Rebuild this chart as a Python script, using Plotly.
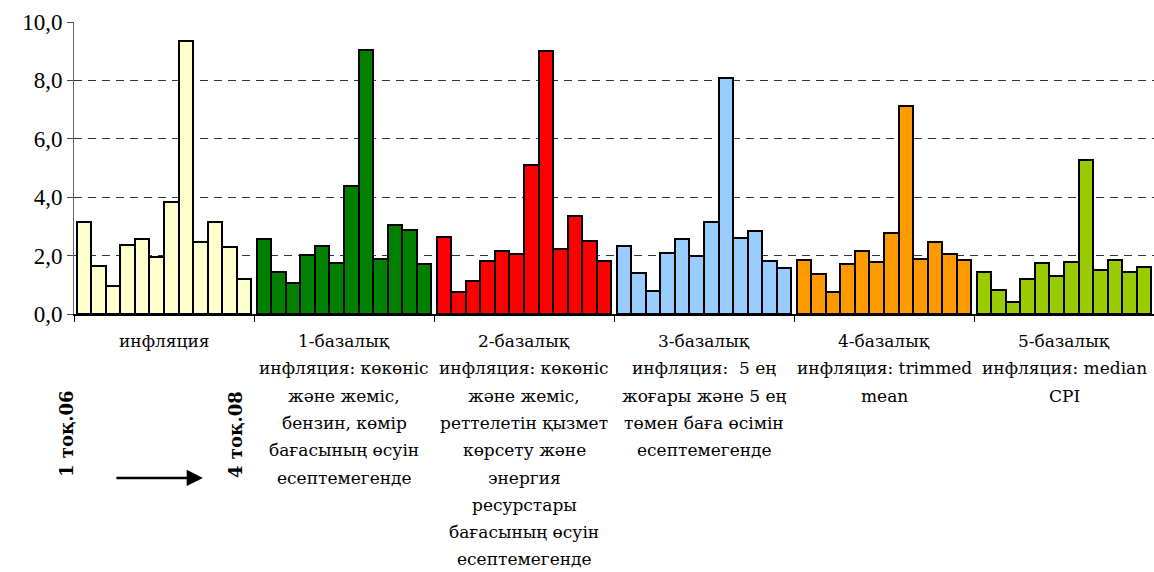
import plotly.graph_objects as go

# Quarterly inflation measures, 1 тоқ.06 … 4 тоқ.08 (12 quarters per measure)
quarters = ["1 тоқ.06", "2 тоқ.06", "3 тоқ.06", "4 тоқ.06",
            "1 тоқ.07", "2 тоқ.07", "3 тоқ.07", "4 тоқ.07",
            "1 тоқ.08", "2 тоқ.08", "3 тоқ.08", "4 тоқ.08"]

inflation = [3.14, 1.63, 0.96, 2.35, 2.57, 1.94, 3.84, 9.34, 2.48, 3.14, 2.30, 1.20]
core1 = [2.56, 1.43, 1.05, 2.01, 2.34, 1.74, 4.40, 9.05, 1.90, 3.04, 2.88, 1.71]
core2 = [2.64, 0.74, 1.13, 1.83, 2.16, 2.06, 5.10, 8.99, 2.24, 3.37, 2.49, 1.83]
core3 = [2.34, 1.39, 0.79, 2.08, 2.58, 1.99, 3.15, 8.09, 2.62, 2.85, 1.82, 1.57]
core4 = [1.85, 1.36, 0.77, 1.71, 2.16, 1.77, 2.77, 7.12, 1.87, 2.48, 2.07, 1.85]
core5 = [1.43, 0.81, 0.40, 1.21, 1.74, 1.29, 1.79, 5.27, 1.51, 1.86, 1.45, 1.60]

series = [inflation, core1, core2, core3, core4, core5]

# Caption lines for each measure block
group_labels = [
    ["инфляция"],
    ["1-базалық", "инфляция: көкөніс", "және жеміс,", "бензин, көмір",
     "бағасының өсуін", "есептемегенде"],
    ["2-базалық", "инфляция: көкөніс", "және жеміс,", "реттелетін қызмет",
     "көрсету және", "энергия", "ресурстары", "бағасының өсуін", "есептемегенде"],
    ["3-базалық", "инфляция:  5 ең", "жоғары және 5 ең", "төмен баға өсімін",
     "есептемегенде"],
    ["4-базалық", "инфляция: trimmed", "mean"],
    ["5-базалық", "инфляция: median", "CPI"],
]

colors = ["#FFFFCC", "#008000", "#FF0000", "#99CCFF", "#FF9900", "#99CC00"]

y_ticks = [0, 2, 4, 6, 8, 10]
y_tick_text = ["0,0", "2,0", "4,0", "6,0", "8,0", "10,0"]

NUM_FONT = "Liberation Serif"
TXT_FONT = "DejaVu Serif"
GROUP_SPAN = 12.4   # width of one measure block in bar units
PAD = 0.2           # empty space at each side of a block
PLOT_H = 292        # plot-area height in px, used to step caption lines
LINE_STEP = 27.3 / PLOT_H
FIRST_LINE = -27.0 / PLOT_H

fig = go.Figure()
for g, (vals, col) in enumerate(zip(series, colors)):
    xs = [g * GROUP_SPAN + PAD + i + 0.5 for i in range(len(vals))]
    fig.add_trace(go.Bar(
        x=xs, y=vals, width=1.0,
        marker=dict(color=col, line=dict(color="black", width=2)),
        customdata=quarters,
        hovertemplate="%{customdata}: %{y:.2f}<extra></extra>",
        showlegend=False,
    ))

n_groups = len(series)
boundaries = [g * GROUP_SPAN for g in range(n_groups + 1)]

fig.update_layout(
    width=1154, height=572,
    margin=dict(l=74, r=0, t=22, b=258),
    plot_bgcolor="white", paper_bgcolor="white",
    font=dict(family=TXT_FONT, color="black"),
    bargap=0,
    xaxis=dict(
        range=[0, n_groups * GROUP_SPAN],
        tickvals=boundaries, ticktext=[""] * len(boundaries),
        ticks="outside", ticklen=6, tickcolor="black", tickwidth=1,
        showgrid=False, zeroline=False,
        showline=True, linecolor="black", linewidth=1.5,
    ),
    yaxis=dict(
        range=[0, 10],
        tickvals=y_ticks, ticktext=y_tick_text,
        ticks="outside", ticklen=6, tickcolor="#444", tickwidth=1,
        tickfont=dict(size=23, family=NUM_FONT, color="black"),
        showgrid=True, gridcolor="#333", gridwidth=1, griddash="8px,6px",
        zeroline=False,
        showline=True, linecolor="#666", linewidth=1,
    ),
)

# Category captions under each block, one annotation per line
for g, lines in enumerate(group_labels):
    for k, line in enumerate(lines):
        fig.add_annotation(
            x=g * GROUP_SPAN + GROUP_SPAN / 2, xref="x",
            y=FIRST_LINE - k * LINE_STEP, yref="paper",
            yanchor="middle", xanchor="center",
            text=line, showarrow=False,
            font=dict(size=17, family=TXT_FONT, color="black"),
        )

# Period markers with an arrow showing time direction
fig.add_annotation(
    x=-0.0074, xref="paper", y=-0.411, yref="paper",
    xanchor="center", yanchor="middle",
    text="<b>1 тоқ.06</b>", textangle=-90, showarrow=False,
    font=dict(size=18, family=TXT_FONT, color="black"),
)
fig.add_annotation(
    x=0.149, xref="paper", y=-0.411, yref="paper",
    xanchor="center", yanchor="middle",
    text="<b>4 тоқ.08</b>", textangle=-90, showarrow=False,
    font=dict(size=18, family=TXT_FONT, color="black"),
)
fig.add_annotation(
    x=0.1194, xref="paper", y=-0.5616, yref="paper",
    ax=-88, ay=0, text="", showarrow=True,
    arrowhead=2, arrowsize=1.3, arrowwidth=2.5, arrowcolor="black",
)

fig.write_html("out.html")
